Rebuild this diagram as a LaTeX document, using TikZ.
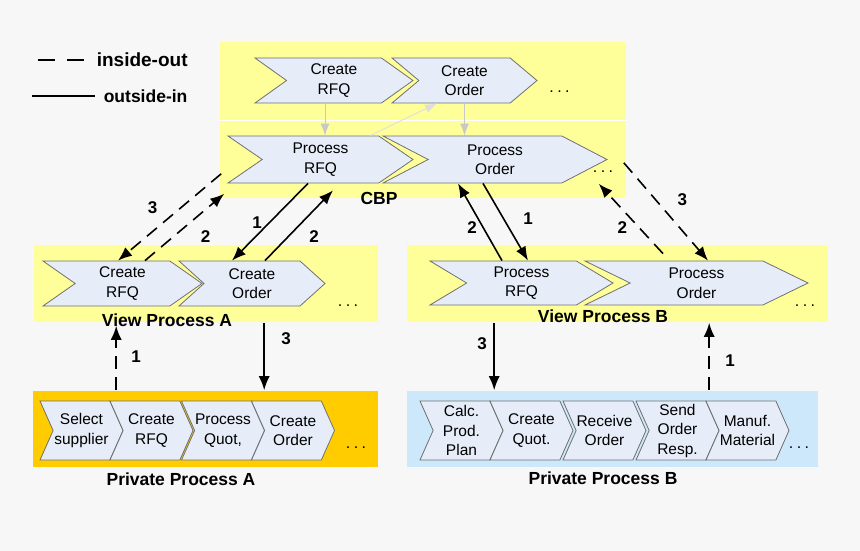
\documentclass[tikz,border=0pt]{standalone}
\usepackage{fontspec}
\setmainfont{Liberation Sans}
\usetikzlibrary{arrows.meta,shapes.symbols,calc}

\definecolor{bgcol}{HTML}{F7F7F7}
\definecolor{cbpyellow}{HTML}{FFFF99}
\definecolor{privorange}{HTML}{FFCC00}
\definecolor{privblue}{HTML}{CCE8FA}
\definecolor{chevfill}{HTML}{E6ECF8}
\definecolor{chevline}{HTML}{707070}
\definecolor{flowgray}{HTML}{C8C8C8}

\newcommand{\moredots}{.\hspace{3.5pt}.\hspace{3.5pt}.}

\begin{document}
\begin{tikzpicture}[x=1pt,y=-1pt,>={Latex[length=14pt,width=11pt]},
                    line width=1.6pt]
  \tikzstyle{box}=[rectangle,draw=none,inner sep=0pt]
  \tikzstyle{chev}=[signal,signal from=west,signal to=east,draw=chevline,
                    fill=chevfill,line width=0.8pt,inner sep=0pt,align=center,
                    font=\fontsize{15.5}{19.5}\selectfont]
  \tikzstyle{title}=[font=\bfseries\fontsize{17.5}{20}\selectfont,inner sep=0pt]
  \tikzstyle{num}=[font=\bfseries\fontsize{17}{20}\selectfont,inner sep=0pt]
  \tikzstyle{more}=[font=\fontsize{16}{19}\selectfont,inner sep=0pt]
  \tikzstyle{io}=[->,dash pattern=on 13pt off 8pt]
  \tikzstyle{oi}=[->]
  \tikzstyle{flow}=[-{Latex[length=12pt,width=9pt]},draw=flowgray,line width=0.9pt]

  \fill[bgcol] (0,0) rectangle (860,551);
  \useasboundingbox (0,0) rectangle (860,551);

  % legend
  \coordinate (ioa) at (38,60);
  \coordinate (iob) at (86,60);
  \coordinate (oia) at (32,96);
  \coordinate (oib) at (95,96);
  \draw[dash pattern=on 17pt off 12pt] (ioa) -- (iob);
  \draw (oia) -- (oib);
  \node[title,font=\bfseries\fontsize{19}{22}\selectfont,anchor=west] (iotxt) at (96,60) {inside-out};
  \node[title,anchor=west] (oitxt) at (103,96) {outside-in};

  % areas
  \node[box,fill=cbpyellow,minimum width=406,minimum height=156] (cbp) at (423,120) {};
  \draw[white,line width=1pt] (cbp.west) -- (cbp.east);
  \node[box,fill=cbpyellow,minimum width=344,minimum height=77] (viewa) at (206,283.5) {};
  \node[box,fill=cbpyellow,minimum width=421,minimum height=77] (viewb) at (617.5,283.5) {};
  \node[box,fill=privorange,minimum width=345,minimum height=76] (priva) at (205.5,429) {};
  \node[box,fill=privblue,minimum width=411,minimum height=76] (privb) at (612.5,429) {};

  % CBP
  \node[chev,minimum width=158,minimum height=45,signal pointer angle=71] (ccrfq) at (334,80.5) {Create\\RFQ};
  \node[chev,minimum width=145,minimum height=45,signal pointer angle=80] (ccord) at (464.5,80.5) {Create\\Order};
  \node[chev,minimum width=185,minimum height=47,signal pointer angle=69] (cprfq) at (320.5,159.5) {Process\\RFQ};
  \node[chev,minimum width=224,minimum height=47,signal pointer angle=55] (cpord) at (495,159.5) {Process\\Order};
  \node[more] (cbpdots1) at (559.5,92) {\moredots};
  \node[more] (cbpdots2) at (603,172) {\moredots};
  \node[title] (cbptxt) at (379,198) {CBP};

  % view process A
  \node[chev,minimum width=159,minimum height=45,signal pointer angle=70] (varfq) at (122.5,283.5) {Create\\RFQ};
  \node[chev,minimum width=146,minimum height=45,signal pointer angle=84] (vaord) at (252,283.5) {Create\\Order};
  \node[more] (vadots) at (348,306) {\moredots};
  \node[title] (vatxt) at (167,320) {View Process A};

  % view process B
  \node[chev,minimum width=183,minimum height=44,signal pointer angle=62] (vbrfq) at (521.5,283) {Process\\RFQ};
  \node[chev,minimum width=223,minimum height=44,signal pointer angle=52] (vbord) at (696.5,283) {Process\\Order};
  \node[more] (vbdots) at (805,306) {\moredots};
  \node[title] (vbtxt) at (603,316.5) {View Process B};

  % private process A
  \tikzstyle{pchev}=[chev,minimum width=83,minimum height=59,signal pointer angle=132]
  \node[pchev] (pasel)  at (81.5,430.5) {Select\\supplier};
  \node[pchev] (parfq)  at (151.5,430.5) {Create\\RFQ};
  \node[pchev] (paquot) at (223,430.5) {Process\\Quot,};
  \node[pchev] (paord)  at (293,430.5) {Create\\Order};
  \node[more] (padots) at (356,448) {\moredots};
  \node[title] (patxt) at (181,479) {Private Process A};

  % private process B
  \node[pchev] (pbplan)  at (461.5,430.5) {Calc.\\Prod.\\Plan};
  \node[pchev] (pbquot)  at (531.5,430.5) {Create\\Quot.};
  \node[pchev] (pbrecv)  at (604.5,430.5) {Receive\\Order};
  \node[pchev] (pbresp)  at (677.5,430.5) {Send\\Order\\Resp.};
  \node[pchev] (pbmanuf) at (747.5,430.5) {Manuf.\\Material};
  \node[more] (pbdots) at (799,448) {\moredots};
  \node[title] (pbtxt) at (603,478) {Private Process B};

  % flow inside CBP
  \path ($(ccrfq.south)+(-9,0)$) edge[flow] ($(cprfq.north)+(4.5,0)$)
        (ccord.south) edge[flow] (ccord.south |- cpord.north)
        ($(cprfq.north)+(49.5,0)$) edge[flow,draw=flowgray!60] ($(ccord.south)+(-27.5,0)$);

  % CBP <-> view A
  \path ($(cbp.south west)+(2,-25)$) edge[io] node[num,xshift=-17pt,yshift=9.5pt] {3} ($(varfq.north)+(-4.5,0)$)
        ($(varfq.north)+(22.5,0)$) edge[io] node[num,xshift=21pt,yshift=-9.5pt] {2} ($(cbp.south west)+(5,-5)$)
        ($(cprfq.south)+(-12.5,0)$) edge[oi] node[num,xshift=-13pt,yshift=-0.5pt] {1} ($(vaord.north)+(-20,0)$)
        ($(vaord.north)+(13,0)$) edge[oi] node[num,xshift=15pt,yshift=-11pt] {2} ($(cprfq.south)+(12.5,7)$);

  % CBP <-> view B
  \path ($(vbrfq.north)+(-19.5,0)$) edge[oi] node[num,xshift=-8pt,yshift=-5.5pt] {2} ($(cpord.south)+(-37,0)$)
        ($(cpord.south)+(-12,0)$) edge[oi] node[num,xshift=22.5pt,yshift=3.5pt] {1} ($(vbrfq.north)+(6.5,0)$)
        ($(vbord.north)+(-33.5,-7)$) edge[io] node[num,xshift=-8.5pt,yshift=-8.5pt] {2} ($(cbp.south east)+(-28,-15)$)
        ($(cbp.south east)+(-3,-36)$) edge[io] node[num,xshift=16.5pt,yshift=12pt] {3} ($(vbord.north)+(11.5,0)$);

  % views <-> private processes
  \path ($(priva.north west)+(84,0)$) edge[io] node[num,xshift=20pt,yshift=1pt] {1} ($(viewa.south west)+(83,3)$)
        ($(viewa.south west)+(231,0)$) edge[oi] node[num,xshift=22pt,yshift=17.5pt] {3} ($(priva.north west)+(232,0)$)
        ($(viewb.south west)+(88,0)$) edge[oi] node[num,xshift=-12pt,yshift=12.5pt] {3} ($(privb.north west)+(88,0)$)
        ($(privb.north west)+(303,0)$) edge[io] node[num,xshift=21pt,yshift=-4.5pt] {1} ($(viewb.south west)+(303,0)$);
\end{tikzpicture}
\end{document}
